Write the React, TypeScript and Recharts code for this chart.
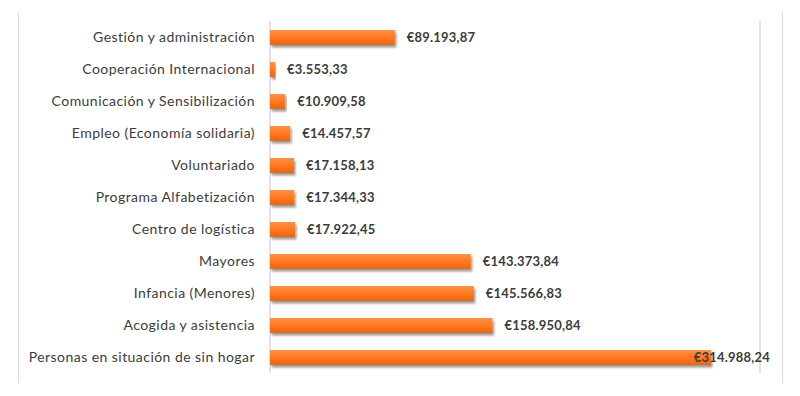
import { Bar, BarChart, CartesianGrid, LabelList, XAxis, YAxis } from 'recharts';

const CATEGORIES = [
  'Gestión y administración',
  'Cooperación Internacional',
  'Comunicación y Sensibilización',
  'Empleo (Economía solidaria)',
  'Voluntariado',
  'Programa Alfabetización',
  'Centro de logística',
  'Mayores',
  'Infancia (Menores)',
  'Acogida y asistencia',
  'Personas en situación de sin hogar',
];

const AMOUNTS = [
  89193.87, 3553.33, 10909.58, 14457.57, 17158.13, 17344.33, 17922.45, 143373.84, 145566.83, 158950.84, 314988.24,
];

const X_TICKS = [0, 50000, 100000, 150000, 200000, 250000, 300000, 350000];

const data = CATEGORIES.map((name, i) => ({ name, value: AMOUNTS[i] }));

const FONT = 'Lato, "Open Sans", sans-serif';
const TEXT = '#3c3c3c';

// €89.193,87 style, without relying on the browser locale
function euro(v: number) {
  const [int, dec] = v.toFixed(2).split('.');
  return `€${int.replace(/\B(?=(\d{3})+(?!\d))/g, '.')},${dec}`;
}

function ValueLabel(props: any) {
  const { x, y, width, height, value } = props;
  const cy = y + height / 2;
  const start = x + width + 12;
  const right = 770;
  const clamp = start + 76 > right;
  return (
    <text
      x={clamp ? right : start}
      y={cy}
      dy="0.36em"
      textAnchor={clamp ? 'end' : 'start'}
      fill={TEXT}
      fontFamily={FONT}
      fontWeight={700}
      fontSize={13}
      letterSpacing={0.2}
    >
      {euro(value)}
    </text>
  );
}

function ShadowBar(props: any) {
  const { x, y, width, height } = props;
  if (!width) return null;
  return <rect x={x} y={y} width={width} height={height} fill="url(#barFill)" filter="url(#barShadow)" />;
}

export default function App() {
  return (
    <div style={{ position: 'absolute', left: 0, top: 0, width: 800, height: 396, background: '#fff' }}>
      <div
        style={{
          position: 'absolute',
          left: 18,
          top: 12,
          width: 763,
          height: 371,
          borderLeft: '1.5px solid #d9d9d9',
          borderRight: '1.5px solid #d9d9d9',
        }}
      />
      <BarChart
        width={800}
        height={396}
        data={data}
        layout="vertical"
        margin={{ top: 21, right: 40, bottom: 23, left: 0 }}
        barCategoryGap={0}
        style={{ position: 'absolute', left: 0, top: 0 }}
      >
        <defs>
          <linearGradient id="barFill" x1="0" y1="0" x2="0" y2="1">
            <stop offset="0%" stopColor="#ff9148" />
            <stop offset="45%" stopColor="#ff7a20" />
            <stop offset="100%" stopColor="#eb6610" />
          </linearGradient>
          <filter id="barShadow" x="-5%" y="-30%" width="115%" height="180%">
            <feDropShadow dx="1.5" dy="2.5" stdDeviation="1.3" floodColor="#000" floodOpacity="0.4" />
          </filter>
        </defs>
        <CartesianGrid horizontal={false} stroke="#d9d9d9" strokeWidth={1.5} />
        <XAxis type="number" domain={[0, 350000]} ticks={X_TICKS} tick={false} axisLine={false} tickLine={false} height={0} />
        <YAxis
          type="category"
          dataKey="name"
          width={270}
          axisLine={false}
          tickLine={false}
          tickSize={0}
          tickMargin={15}
          interval={0}
          tick={{ fill: TEXT, fontSize: 14, fontFamily: FONT, letterSpacing: 0.45 }}
        />
        <Bar dataKey="value" barSize={15} shape={<ShadowBar />} isAnimationActive={false}>
          <LabelList dataKey="value" content={<ValueLabel />} />
        </Bar>
      </BarChart>
    </div>
  );
}
